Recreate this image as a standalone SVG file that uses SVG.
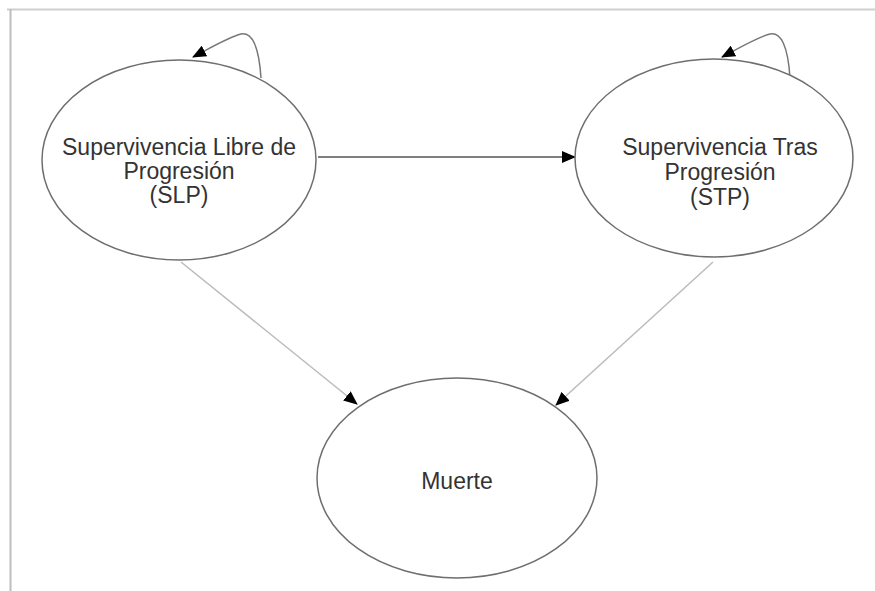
<svg xmlns="http://www.w3.org/2000/svg" width="875" height="591" viewBox="0 0 875 591">
<style>
.node ellipse{fill:#fff;stroke:#6e6e6e;stroke-width:1.5}
.node text{font-family:"Liberation Sans",Arial,sans-serif;font-size:23px;fill:#333;text-anchor:middle}
.edge{fill:none;stroke-width:1.5}
</style>
<defs>
<marker id="arr" markerUnits="userSpaceOnUse" markerWidth="14" markerHeight="12" viewBox="0 0 14 12" refX="13" refY="6" orient="auto">
<path d="M0,0 L14,6 L0,12 Z" fill="#000"/>
</marker>
</defs>
<rect x="0" y="0" width="875" height="591" fill="#fff"/>
<path d="M7,9.5 H875" stroke="#cfcfcf" stroke-width="2" fill="none"/>
<path d="M10.5,9 V591" stroke="#bdbdbd" stroke-width="2" fill="none"/>
<g id="connectors">
<path class="edge" d="M261,78 C259,46 252,32 241,34 C229,37 212,47 193,57" stroke="#777" marker-end="url(#arr)"/>
<path class="edge" d="M790,78 C788,46 781,32 770,34 C758,37 741,47 722,57" stroke="#777" marker-end="url(#arr)"/>
<path class="edge" d="M318,157 H575" stroke="#555" marker-end="url(#arr)"/>
<path class="edge" d="M181,262 L357,404" stroke="#bbb" marker-end="url(#arr)"/>
<path class="edge" d="M713,262 L556,405" stroke="#bbb" marker-end="url(#arr)"/>
</g>
<g id="node-slp" class="node">
<ellipse cx="179" cy="160" rx="137" ry="100"/>
<text x="179" y="155">Supervivencia Libre de</text>
<text x="179" y="179">Progresión</text>
<text x="179" y="203">(SLP)</text>
</g>
<g id="node-stp" class="node">
<ellipse cx="714" cy="158" rx="139" ry="99"/>
<text x="720" y="155">Supervivencia Tras</text>
<text x="720" y="180">Progresión</text>
<text x="720" y="205">(STP)</text>
</g>
<g id="node-muerte" class="node">
<ellipse cx="457" cy="478" rx="140" ry="100"/>
<text x="457" y="489">Muerte</text>
</g>
</svg>
